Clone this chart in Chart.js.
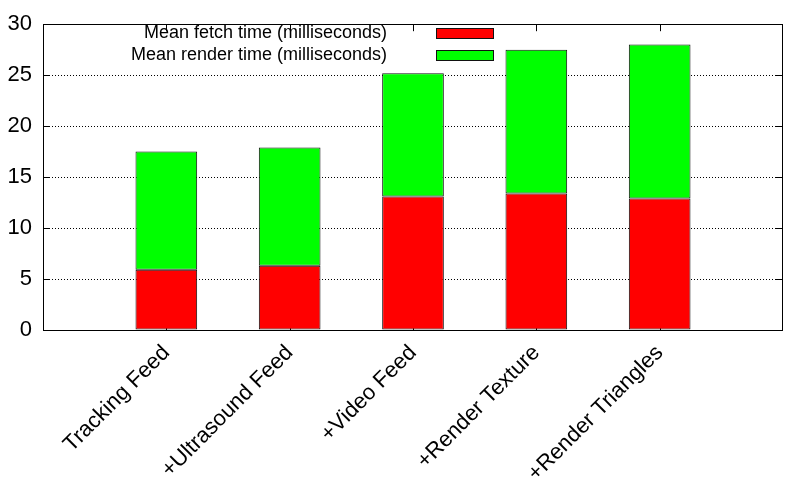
<!DOCTYPE html>
<html>
<head>
<meta charset="utf-8">
<script src="https://cdn.jsdelivr.net/npm/chart.js@4/dist/chart.umd.min.js"></script>
<style>
  body { margin: 0; background: #fff; }
  #wrap { width: 786px; height: 489px; }
</style>
</head>
<body>
<div id="wrap"><canvas id="myChart" width="786" height="489"></canvas></div>
<script>
// empty slots at both ends give gnuplot's [-1:5] x range
const categories = ["", "Tracking Feed", "+Ultrasound Feed", "+Video Feed", "+Render Texture", "+Render Triangles", ""];
const fetchTime = [null, 5.9, 6.3, 13.1, 13.4, 12.9, null];
const renderTime = [null, 11.6, 11.6, 12.1, 14.1, 15.1, null];
const yTicks = [0, 5, 10, 15, 20, 25, 30];

const FONT = "'Liberation Sans', Arial, Helvetica, sans-serif";

// gnuplot-ish frame: solid border, inward tics, legend with text left of the sample
const framePlugin = {
  id: "frame",
  beforeDatasetsDraw(chart) {
    const { ctx, chartArea: a, scales } = chart;
    ctx.save();
    ctx.strokeStyle = "#000";
    ctx.lineWidth = 1;
    ctx.beginPath();
    yTicks.forEach(function (v) {
      const y = Math.round(scales.y.getPixelForValue(v)) + 0.5;
      ctx.moveTo(a.left, y);
      ctx.lineTo(a.left + 7, y);
      ctx.moveTo(a.right, y);
      ctx.lineTo(a.right - 7, y);
    });
    for (let i = 1; i < categories.length - 1; i++) {
      const x = Math.round(scales.x.getPixelForValue(i)) + 0.5;
      ctx.moveTo(x, a.top);
      ctx.lineTo(x, a.top + 7);
      ctx.moveTo(x, a.bottom);
      ctx.lineTo(x, a.bottom - 7);
    }
    ctx.stroke();
    ctx.restore();
  },
  afterDatasetsDraw(chart) {
    const { ctx, chartArea: a } = chart;
    ctx.save();
    ctx.strokeStyle = "#000";
    ctx.lineWidth = 1;
    ctx.strokeRect(Math.round(a.left) + 0.5, Math.round(a.top) + 0.5,
      Math.round(a.right - a.left) - 1, Math.round(a.bottom - a.top));

    // legend
    ctx.font = "18px " + FONT;
    ctx.textAlign = "right";
    ctx.textBaseline = "middle";
    chart.data.datasets.forEach(function (ds, i) {
      const yc = 33.5 + i * 22;
      ctx.fillStyle = "#000";
      ctx.fillText(ds.label, 387, yc);
      ctx.fillStyle = ds.backgroundColor;
      ctx.fillRect(436.5, yc - 5, 57, 10);
      ctx.strokeStyle = "#111";
      ctx.strokeRect(436.5, yc - 5, 57, 10);
    });
    ctx.restore();
  }
};

const ctx = document.getElementById("myChart").getContext("2d");
new Chart(ctx, {
  type: "bar",
  data: {
    labels: categories,
    datasets: [
      {
        label: "Mean fetch time (milliseconds)",
        data: fetchTime,
        backgroundColor: "#ff0000",
        borderColor: "#111",
        borderWidth: 1,
        borderSkipped: false,
      },
      {
        label: "Mean render time (milliseconds)",
        data: renderTime,
        backgroundColor: "#00ff00",
        borderColor: "#111",
        borderWidth: 1,
        borderSkipped: false,
      },
    ],
  },
  options: {
    responsive: false,
    animation: false,
    layout: { padding: { top: 14, right: 3, left: 0, bottom: 0 } },
    datasets: { bar: { barPercentage: 0.5, categoryPercentage: 1 } },
    plugins: {
      legend: { display: false },
      tooltip: { enabled: false },
    },
    scales: {
      x: {
        stacked: true,
        offset: false,
        grid: { display: false },
        border: { display: false },
        ticks: {
          autoSkip: false,
          minRotation: 45,
          maxRotation: 45,
          padding: 2,
          color: "#000",
          font: { family: FONT, size: 22 },
        },
        afterFit: function (scale) {
          scale.height = 159;
          scale.paddingLeft = 0;
          scale.paddingRight = 0;
        },
      },
      y: {
        stacked: true,
        min: 0,
        max: 30,
        grid: {
          color: "#000",
          lineWidth: 1,
          drawTicks: false,
        },
        border: { display: false, dash: [1, 2] },
        ticks: {
          stepSize: 5,
          padding: 11,
          color: "#000",
          font: { family: FONT, size: 22 },
        },
        afterFit: function (scale) { scale.width = 43; },
      },
    },
  },
  plugins: [framePlugin],
});
</script>
</body>
</html>
